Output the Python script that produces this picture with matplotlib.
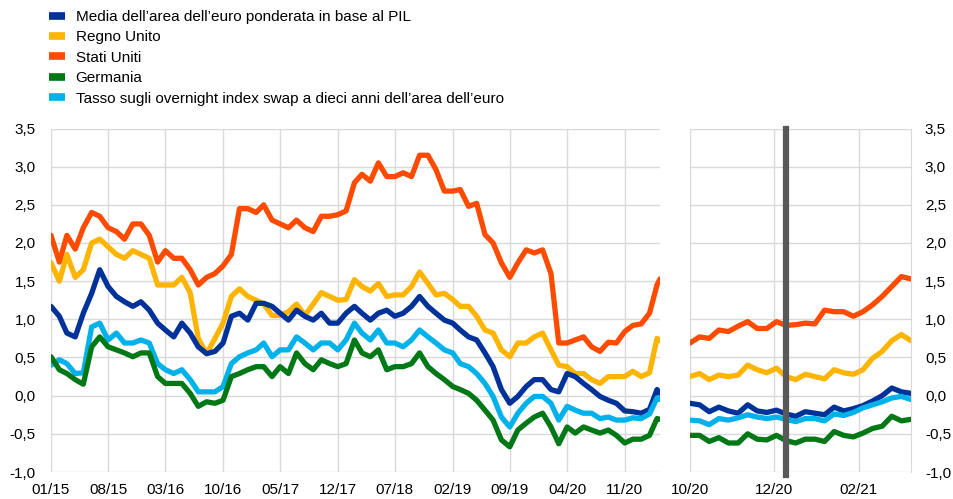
import numpy as np
import pandas as pd
import matplotlib
matplotlib.use("Agg")
import matplotlib.pyplot as plt
import matplotlib.dates as mdates
from matplotlib.ticker import FuncFormatter, MultipleLocator
from matplotlib.lines import Line2D

plt.rcParams['font.family'] = ['Liberation Sans', 'DejaVu Sans']

# monthly values, Jan 2015 - Mar 2021, plus last day (12 Mar 2021)
left_dates = list(pd.date_range('2015-01-01', '2021-03-01', freq='MS')) + [pd.Timestamp('2021-03-12')]

us_left = [2.10, 1.75, 2.10, 1.92, 2.20, 2.40, 2.35, 2.20, 2.15, 2.05, 2.25, 2.25,
           2.10, 1.75, 1.90, 1.80, 1.80, 1.65, 1.45, 1.55, 1.60, 1.70, 1.85, 2.45,
           2.45, 2.40, 2.50, 2.30, 2.25, 2.20, 2.30, 2.20, 2.15, 2.35, 2.35, 2.37,
           2.42, 2.79, 2.90, 2.81, 3.05, 2.87, 2.87, 2.92, 2.87, 3.15, 3.15, 2.96,
           2.68, 2.68, 2.70, 2.48, 2.52, 2.11, 2.00, 1.74, 1.55, 1.74, 1.91, 1.87,
           1.91, 1.60, 0.69, 0.69, 0.73, 0.77, 0.64, 0.58, 0.70, 0.69, 0.84, 0.92,
           0.94, 1.08, 1.45, 1.53]
uk_left = [1.74, 1.50, 1.85, 1.55, 1.65, 2.00, 2.05, 1.95, 1.85, 1.80, 1.90, 1.85,
           1.80, 1.45, 1.45, 1.45, 1.55, 1.35, 0.75, 0.55, 0.75, 0.95, 1.30, 1.40,
           1.30, 1.25, 1.20, 1.05, 1.05, 1.10, 1.20, 1.05, 1.20, 1.35, 1.30, 1.25,
           1.26, 1.52, 1.43, 1.37, 1.47, 1.30, 1.32, 1.32, 1.43, 1.62, 1.47, 1.32,
           1.34, 1.26, 1.17, 1.17, 1.04, 0.86, 0.82, 0.60, 0.51, 0.69, 0.69, 0.77,
           0.82, 0.60, 0.40, 0.38, 0.29, 0.29, 0.21, 0.16, 0.25, 0.25, 0.25, 0.32,
           0.25, 0.30, 0.75, 0.72]
ea_left = [1.17, 1.04, 0.82, 0.77, 1.08, 1.34, 1.65, 1.43, 1.30, 1.23, 1.17, 1.23,
           1.12, 0.95, 0.86, 0.77, 0.95, 0.82, 0.64, 0.55, 0.58, 0.69, 1.04, 1.08,
           0.99, 1.21, 1.21, 1.17, 1.08, 0.99, 1.12, 1.04, 0.99, 1.08, 0.95, 0.95,
           1.08, 1.17, 1.08, 0.99, 1.08, 1.12, 1.04, 1.08, 1.17, 1.30, 1.17, 1.08,
           0.99, 0.95, 0.86, 0.77, 0.73, 0.56, 0.38, 0.08, -0.10, -0.01, 0.12, 0.21,
           0.21, 0.08, 0.05, 0.29, 0.25, 0.16, 0.08, -0.01, -0.06, -0.10, -0.20, -0.21,
           -0.23, -0.18, 0.08, 0.03]
de_left = [0.51, 0.34, 0.29, 0.21, 0.15, 0.64, 0.77, 0.64, 0.60, 0.56, 0.51, 0.56,
           0.56, 0.25, 0.16, 0.16, 0.16, 0.03, -0.14, -0.08, -0.10, -0.06, 0.25, 0.29,
           0.34, 0.38, 0.38, 0.25, 0.38, 0.29, 0.56, 0.42, 0.34, 0.47, 0.42, 0.38,
           0.42, 0.73, 0.56, 0.51, 0.60, 0.34, 0.38, 0.38, 0.42, 0.56, 0.38, 0.29,
           0.21, 0.12, 0.08, 0.03, -0.06, -0.19, -0.32, -0.58, -0.67, -0.45, -0.36, -0.28,
           -0.23, -0.41, -0.63, -0.41, -0.49, -0.41, -0.45, -0.49, -0.45, -0.52, -0.62, -0.57,
           -0.57, -0.52, -0.30, -0.31]
ois_left = [0.40, 0.47, 0.42, 0.29, 0.30, 0.90, 0.95, 0.73, 0.82, 0.69, 0.69, 0.73,
            0.69, 0.42, 0.34, 0.29, 0.34, 0.21, 0.05, 0.05, 0.05, 0.12, 0.42, 0.51,
            0.56, 0.60, 0.69, 0.51, 0.60, 0.60, 0.77, 0.69, 0.60, 0.69, 0.69, 0.60,
            0.73, 0.95, 0.82, 0.73, 0.86, 0.69, 0.69, 0.64, 0.73, 0.86, 0.77, 0.69,
            0.60, 0.56, 0.42, 0.38, 0.29, 0.16, -0.01, -0.28, -0.41, -0.23, -0.10, -0.01,
            -0.01, -0.10, -0.32, -0.14, -0.19, -0.23, -0.23, -0.30, -0.28, -0.32, -0.32, -0.29,
            -0.30, -0.24, -0.03, -0.05]

# weekly values, 1 Oct 2020 - 11 Mar 2021
right_dates = pd.date_range('2020-10-01', periods=24, freq='7D')
us_right = [0.69, 0.77, 0.75, 0.86, 0.84, 0.91, 0.97, 0.88, 0.88, 0.97, 0.92, 0.93,
            0.95, 0.94, 1.12, 1.10, 1.10, 1.04, 1.10, 1.19, 1.30, 1.43, 1.56, 1.53]
uk_right = [0.25, 0.29, 0.21, 0.27, 0.25, 0.27, 0.40, 0.34, 0.30, 0.36, 0.25, 0.21,
            0.28, 0.25, 0.22, 0.34, 0.30, 0.28, 0.34, 0.49, 0.58, 0.72, 0.80, 0.72]
ea_right = [-0.10, -0.12, -0.21, -0.15, -0.20, -0.23, -0.12, -0.20, -0.22, -0.19, -0.24, -0.27,
            -0.21, -0.23, -0.25, -0.15, -0.20, -0.17, -0.13, -0.07, 0.00, 0.10, 0.05, 0.03]
de_right = [-0.52, -0.52, -0.60, -0.55, -0.62, -0.62, -0.50, -0.57, -0.58, -0.52, -0.59, -0.62,
            -0.57, -0.57, -0.60, -0.47, -0.52, -0.54, -0.49, -0.43, -0.40, -0.27, -0.33, -0.31]
ois_right = [-0.32, -0.33, -0.38, -0.30, -0.32, -0.29, -0.25, -0.28, -0.30, -0.28, -0.31, -0.34,
             -0.30, -0.30, -0.33, -0.24, -0.26, -0.22, -0.16, -0.12, -0.08, -0.03, -0.01, -0.05]

labels = ["Media dell\u2019area dell\u2019euro ponderata in base al PIL",
          "Regno Unito",
          "Stati Uniti",
          "Germania",
          "Tasso sugli overnight index swap a dieci anni dell\u2019area dell\u2019euro"]
colors = ['#003299', '#FFB400', '#FF4B00', '#007816', '#00B1EA']
event_date = pd.Timestamp('2020-12-10')

left_ticks = pd.date_range('2015-01-01', '2020-11-01', freq='7MS')
right_ticks = [pd.Timestamp('2020-10-01'), pd.Timestamp('2020-12-01'), pd.Timestamp('2021-02-01')]

fig = plt.figure(figsize=(9.54, 4.99), dpi=100)
W, H = 954, 499
ybot = 1 - 472 / H
ytop = 1 - 128.5 / H
ax1 = fig.add_axes([51 / W, ybot, (660 - 51) / W, ytop - ybot])
ax2 = fig.add_axes([690 / W, ybot, (911 - 690) / W, ytop - ybot])

grid_col = '#d9d9d9'
fmt = FuncFormatter(lambda v, p: f"{v:.1f}".replace('.', ','))

left_series = [ea_left, uk_left, us_left, de_left, ois_left]
right_series = [ea_right, uk_right, us_right, de_right, ois_right]
# drawing order: US/UK behind, euro lines on top
order = [2, 1, 0, 4, 3]

for i in order:
    ax1.plot(left_dates, left_series[i], color=colors[i], lw=3.8, solid_capstyle='round')
    ax2.plot(right_dates, right_series[i], color=colors[i], lw=3.8, solid_capstyle='round')

ax2.axvline(event_date, color='#595959', lw=4.5, ymin=-0.01, ymax=1.0, clip_on=False)

for ax in (ax1, ax2):
    ax.set_ylim(-1.0, 3.5)
    ax.yaxis.set_major_locator(MultipleLocator(0.5))
    ax.yaxis.set_major_formatter(fmt)
    ax.grid(True, color=grid_col, lw=1.0)
    ax.set_axisbelow(True)
    for s in ax.spines.values():
        s.set_visible(False)
    ax.tick_params(length=0, labelsize=11, colors='#000000')
    ax.xaxis.set_major_formatter(mdates.DateFormatter('%m/%y'))

ax1.set_xlim(pd.Timestamp('2015-01-01'), pd.Timestamp('2021-03-12'))
ax1.set_xticks(left_ticks)
ax1.tick_params(axis='y', pad=11)
ax1.tick_params(axis='x', pad=8)

ax2.set_xlim(pd.Timestamp('2020-10-01'), pd.Timestamp('2021-03-11'))
ax2.set_xticks(right_ticks)
ax2.yaxis.tick_right()
ax2.tick_params(axis='y', pad=10)
ax2.tick_params(axis='x', pad=8)
ax2.spines['right'].set_visible(True)
ax2.spines['right'].set_color(grid_col)

handles = [Line2D([0], [0], color=c, lw=5.5, solid_capstyle='butt') for c in colors]
fig.legend(handles, labels, loc='upper left', bbox_to_anchor=(49 / W, 1 - 10 / H),
           frameon=False, fontsize=11, handlelength=1.05, handletextpad=0.7,
           labelspacing=0.42, borderpad=0, borderaxespad=0)

fig.savefig('out.png', dpi=100)
